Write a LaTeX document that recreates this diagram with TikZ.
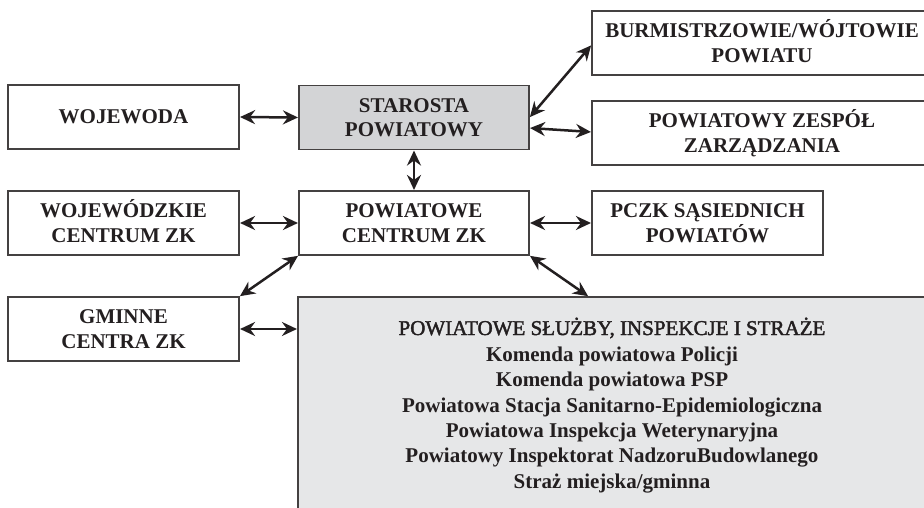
\documentclass[tikz,border=0pt]{standalone}
\usepackage{fontspec}
\setmainfont{Liberation Serif}
\newfontfamily\medfont[FakeBold=2]{Liberation Serif}
\usetikzlibrary{arrows.meta}
\definecolor{ink}{HTML}{231F20}
\definecolor{gdark}{HTML}{D3D4D6}
\definecolor{glight}{HTML}{E6E7E8}
\newcommand\twoline[2]{\makebox[0pt]{\raisebox{5.5pt}[0pt][0pt]{#1}}\makebox[0pt]{\raisebox{-19.5pt}[0pt][0pt]{#2}}}
\newcommand\oneline[1]{\makebox[0pt]{\raisebox{-7pt}[0pt][0pt]{#1}}}
\begin{document}
\begin{tikzpicture}[x=1pt,y=-1pt,
  box/.style={draw=ink!85, line width=1.1pt, fill=white, minimum width=231pt, minimum height=64pt,
    inner sep=0pt, font=\bfseries\fontsize{21}{25}\selectfont, text=ink},
  conn/.style={draw=ink, line width=2.5pt,
    {Stealth[length=15pt,width=14pt,inset=5pt]}-{Stealth[length=15pt,width=14pt,inset=5pt]},
    shorten >=0.5pt, shorten <=0.5pt},
  txtline/.style={font=\bfseries\fontsize{21}{25}\selectfont, text=ink, anchor=base, inner sep=0pt}]
\useasboundingbox (0,0) rectangle (924,508);
\clip (0,0) rectangle (924,508);
\fill[white] (0,0) rectangle (924,508);
% boxes
\node[box] (woj) at (123.5,117) {\oneline{WOJEWODA}};
\node[box, fill=gdark, minimum width=230pt] (star) at (414,117.5) {\twoline{STAROSTA}{POWIATOWY}};
\node[box, minimum width=340pt] (burm) at (762,43) {\twoline{BURMISTRZOWIE/WÓJTOWIE}{POWIATU}};
\node[box, minimum width=340pt] (zesp) at (762,133) {\twoline{POWIATOWY ZESPÓŁ}{ZARZĄDZANIA}};
\node[box] (wojc) at (123.5,223) {\twoline{WOJEWÓDZKIE}{CENTRUM ZK}};
\node[box, minimum width=230pt] (pcen) at (414,223) {\twoline{POWIATOWE}{CENTRUM ZK}};
\node[box] (pczk) at (707.5,223) {\twoline{PCZK SĄSIEDNICH}{POWIATÓW}};
\node[box] (gmin) at (123.5,329) {\twoline{GMINNE}{CENTRA ZK}};
\node[box, fill=glight, minimum width=629pt, minimum height=233pt] (big) at (612.5,413.5) {};
% big box text
\node[txtline, font=\medfont\fontsize{21}{25}\selectfont] (t1) at (612,335) {POWIATOWE SŁUŻBY, INSPEKCJE I STRAŻE};
\node[txtline] (t2) at (612,361) {Komenda powiatowa Policji};
\node[txtline] (t3) at (612,386) {Komenda powiatowa PSP};
\node[txtline] (t4) at (612,412) {Powiatowa Stacja Sanitarno-Epidemiologiczna};
\node[txtline] (t5) at (612,437) {Powiatowa Inspekcja Weterynaryjna};
\node[txtline] (t6) at (612,462) {Powiatowy Inspektorat NadzoruBudowlanego};
\node[txtline] (t7) at (612,488) {Straż miejska/gminna};
% connectors
\draw[conn] (woj.east) -- (star.west);
\draw[conn] (star.east) -- ([yshift=-2pt]burm.west);
\draw[conn] ([yshift=-10.5pt]star.east) -- ([yshift=1pt]zesp.west);
\draw[conn] (star.south) -- (pcen.north);
\draw[conn] (wojc.east) -- (pcen.west);
\draw[conn] (pcen.east) -- (pczk.west);
\draw[conn] (gmin.north east) -- (pcen.south west);
\draw[conn] (pcen.south east) -- ([xshift=-24pt]big.north);
\draw[conn] (gmin.east) -- (gmin.east -| big.west);
\end{tikzpicture}
\end{document}
